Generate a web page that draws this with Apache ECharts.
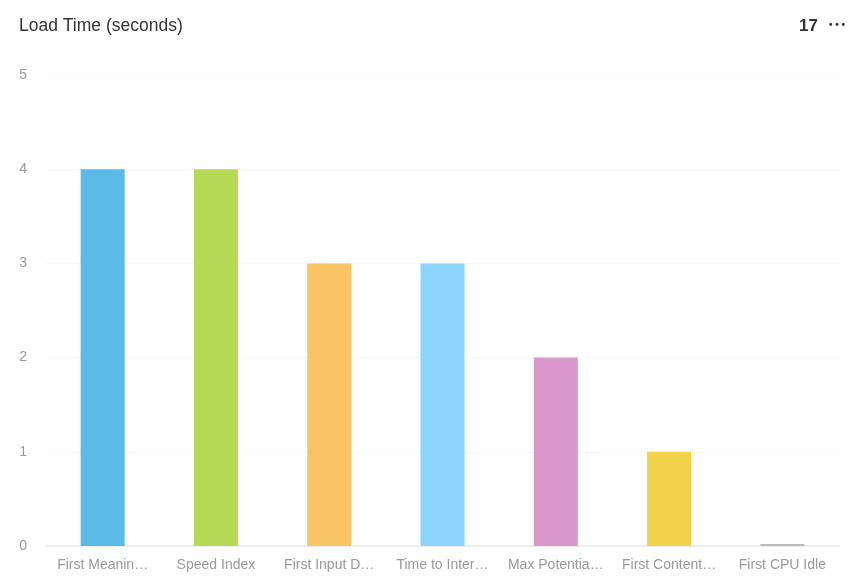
<!DOCTYPE html>
<html>
<head>
<meta charset="utf-8">
<script src="https://cdn.jsdelivr.net/npm/echarts@6/dist/echarts.min.js"></script>
<style>
html,body{margin:0;padding:0;background:#fff;}
#c{width:856px;height:587px;}
</style>
</head>
<body>
<div id="c"></div>
<script>
const categories = ["First Meaningful Paint","Speed Index","First Input Delay","Time to Interactive","Max Potential First Input Delay","First Contentful Paint","First CPU Idle"];
const values = [4, 4, 3, 3, 2, 1, 0.02];
const colors = ["#5bbae6","#b6d957","#fac364","#8cd3ff","#d998cb","#f2d249","#bbbbbb"];
const yTicks = [0,1,2,3,4,5];
const titleText = "Load Time (seconds)";
const countText = "17";

const chart = echarts.init(document.getElementById('c'), null, {renderer:'canvas'});
chart.setOption({
  animation:false,
  textStyle:{fontFamily:'Liberation Sans, Arial, sans-serif'},
  title:[
    {text:titleText,left:14,top:12,textStyle:{fontSize:17.5,fontWeight:'normal',color:'#333'}},
    {text:countText,right:33,top:13,textStyle:{fontSize:17,fontWeight:'bold',color:'#333'}},
    {text:'• • •',right:6,top:15,textStyle:{fontSize:10,fontWeight:'bold',color:'#333'}}
  ],
  grid:{left:46,right:17,top:75,bottom:41,containLabel:false},
  xAxis:{
    type:'category',
    data:categories,
    axisLine:{show:true,lineStyle:{color:'#eeeeee',width:2}},
    axisTick:{show:false},
    axisLabel:{color:'#999',fontSize:14,margin:12,width:97,overflow:'truncate',ellipsis:'…',interval:0}
  },
  yAxis:{
    type:'value',
    min:yTicks[0],max:yTicks[yTicks.length-1],interval:1,
    axisLine:{show:false},
    axisTick:{show:false},
    splitLine:{show:true,lineStyle:{color:'#eeeeee',type:'dotted'}},
    axisLabel:{color:'#999',fontSize:14,margin:19}
  },
  series:[{
    type:'bar',
    barWidth:44,
    data:values.map((v,i)=>({value:v,itemStyle:{color:colors[i]}}))
  }]
});
</script>
</body>
</html>
